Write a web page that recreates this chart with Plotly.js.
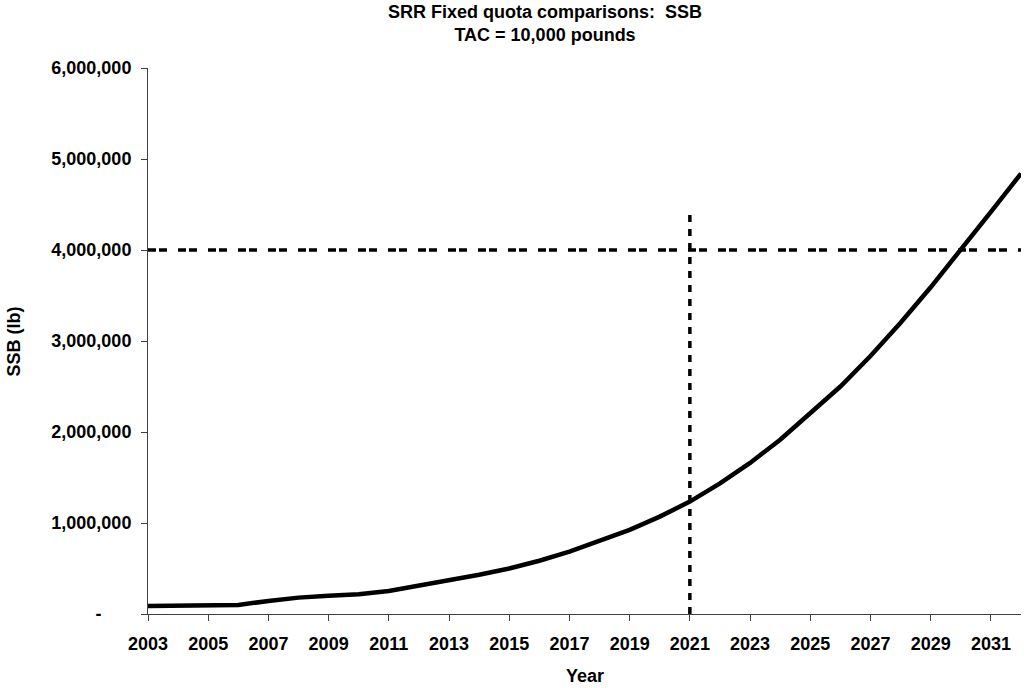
<!DOCTYPE html>
<html>
<head>
<meta charset="utf-8">
<script src="https://cdn.plot.ly/plotly-3.0.1.min.js"></script>
<style>html,body{margin:0;padding:0;background:#fff;}#chart{width:1028px;height:688px;}</style>
</head>
<body>
<div id="chart"></div>
<script>
// Data
const years = [2003,2004,2005,2006,2007,2008,2009,2010,2011,2012,2013,2014,2015,2016,2017,2018,2019,2020,2021,2022,2023,2024,2025,2026,2027,2028,2029,2030,2031,2032];
const ssb = [88000,92000,96000,100000,143000,180000,200000,218000,253000,310000,374000,432000,500000,585000,685000,800000,925000,1070000,1235000,1435000,1660000,1915000,2200000,2500000,2835000,3200000,3590000,4000000,4420000,4840000];
const targetSSB = 4000000;
const refYear = 2021;
const refLineTop = 4400000;
const xStart = 2003, xEnd = 2032;
const yTickVals = [0,1000000,2000000,3000000,4000000,5000000,6000000];
const yTickText = ['-\u00a0\u00a0\u00a0\u00a0\u00a0\u00a0','1,000,000','2,000,000','3,000,000','4,000,000','5,000,000','6,000,000'];
const xTickVals = [2003,2005,2007,2009,2011,2013,2015,2017,2019,2021,2023,2025,2027,2029,2031];
const titleLines = ['SRR Fixed quota comparisons:\u00a0 SSB', 'TAC = 10,000 pounds'];
const xTitle = 'Year';
const yTitle = 'SSB (lb)';

const font = "Arial, 'Liberation Sans', sans-serif";
const boldFont = {family:font, size:18, weight:'bold', color:'#000'};

const traces = [
  {x:[xStart,xEnd], y:[targetSSB,targetSSB], mode:'lines', line:{color:'#000', width:3.5, dash:'8px,3px,8px,11px'}, hoverinfo:'skip', showlegend:false},
  {x:[refYear,refYear], y:[0,refLineTop], mode:'lines', line:{color:'#000', width:3.5, dash:'7px,7px'}, hoverinfo:'skip', showlegend:false},
  {x:years, y:ssb, mode:'lines', line:{color:'#000', width:4.5}, showlegend:false, cliponaxis:false}
];

const layout = {
  width:1028, height:688,
  margin:{l:148, r:7, t:68, b:74},
  paper_bgcolor:'#fff', plot_bgcolor:'#fff',
  font:{family:font, color:'#000', size:18},
  xaxis:{range:[xStart,xEnd], tickvals:xTickVals, ticktext:xTickVals.map(String), ticks:'outside', ticklen:6, tickcolor:'#404040', tickwidth:1,
         showline:true, linecolor:'#404040', linewidth:1, showgrid:false, zeroline:false, ticklabelstandoff:7,
         tickfont:boldFont},
  yaxis:{range:[0,6000000], tickvals:yTickVals, ticktext:yTickText, ticks:'outside', ticklen:6, tickcolor:'#404040', tickwidth:1,
         showline:true, linecolor:'#404040', linewidth:1, showgrid:false, zeroline:false, ticklabelstandoff:6,
         tickfont:boldFont},
  annotations:[
    {text:titleLines.join('<br>'), xref:'paper', yref:'paper', x:0.4548, y:1.081, xanchor:'center', yanchor:'middle', showarrow:false, font:boldFont},
    {text:xTitle, xref:'paper', yref:'paper', x:0.5, y:-0.114, xanchor:'center', yanchor:'middle', showarrow:false, font:boldFont},
    {text:yTitle, xref:'paper', yref:'paper', x:-0.153, y:0.5, xanchor:'center', yanchor:'middle', textangle:-90, showarrow:false, font:boldFont}
  ]
};

Plotly.newPlot('chart', traces, layout, {displayModeBar:false, staticPlot:true});
</script>
</body>
</html>
